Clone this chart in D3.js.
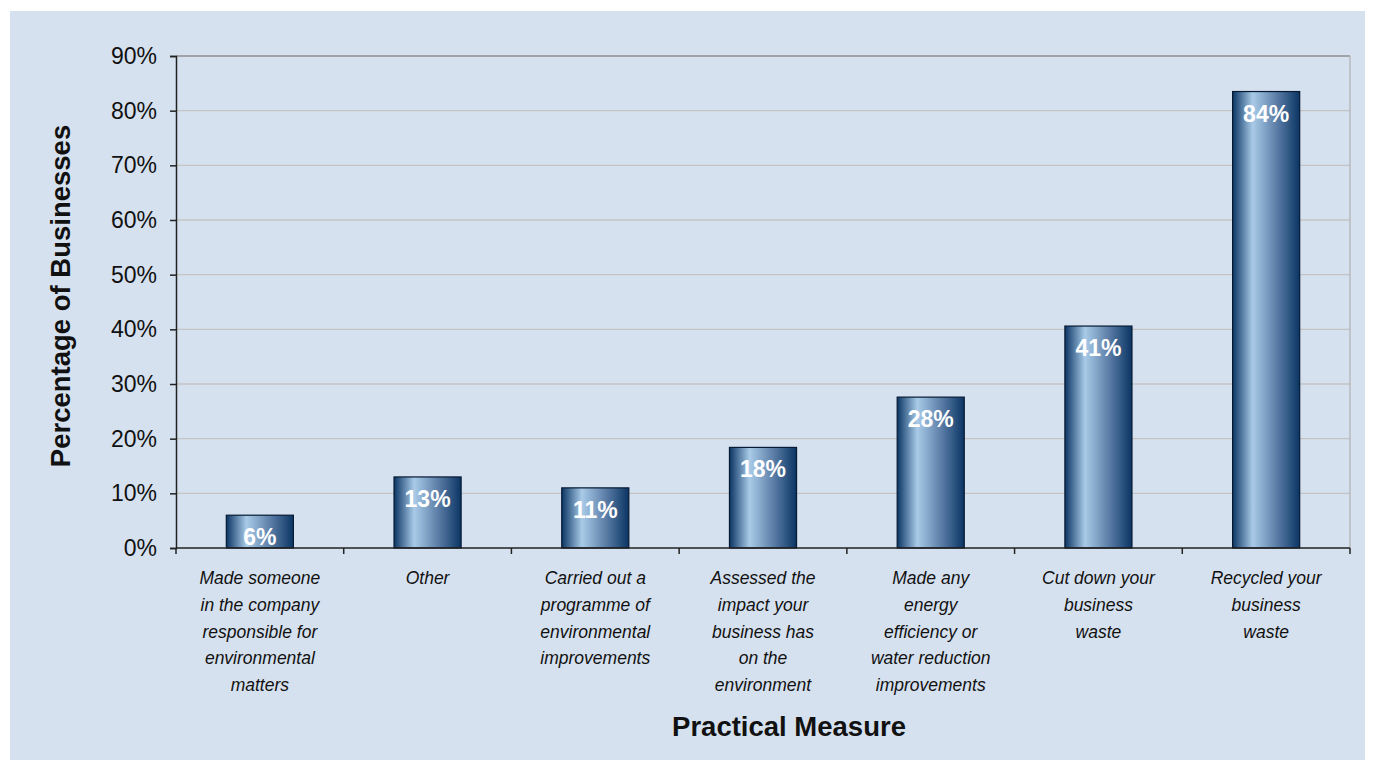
<!DOCTYPE html>
<html>
<head>
<meta charset="utf-8">
<script src="https://cdn.jsdelivr.net/npm/d3@7"></script>
<style>
  body { margin: 0; background: #ffffff; font-family: "Liberation Sans", Arial, sans-serif; }
</style>
</head>
<body>
<div id="chart"></div>
<script>
// data
var categories = [
  ["Made someone", "in the company", "responsible for", "environmental", "matters"],
  ["Other"],
  ["Carried out a", "programme of", "environmental", "improvements"],
  ["Assessed the", "impact your", "business has", "on the", "environment"],
  ["Made any", "energy", "efficiency or", "water reduction", "improvements"],
  ["Cut down your", "business", "waste"],
  ["Recycled your", "business", "waste"]
];
var values = [6, 13, 11, 18.4, 27.6, 40.6, 83.5];
var valueLabels = ["6%", "13%", "11%", "18%", "28%", "41%", "84%"];
var yTicks = [0, 10, 20, 30, 40, 50, 60, 70, 80, 90];

var svgWidth = 1373;
var svgHeight = 764;

var margin = { top: 56, right: 23, bottom: 216, left: 176 };
var width = svgWidth - margin.left - margin.right;
var height = svgHeight - margin.top - margin.bottom;

var svg = d3.select("#chart")
  .append("svg")
  .attr("width", svgWidth)
  .attr("height", svgHeight)
  .style("font-family", "Liberation Sans, Arial, sans-serif");

// panel background
svg.append("rect")
  .attr("x", 10).attr("y", 11)
  .attr("width", 1355).attr("height", 749)
  .attr("fill", "#d6e1ef");

var defs = svg.append("defs");
var grad = defs.append("linearGradient")
  .attr("id", "barGrad")
  .attr("x1", "0%").attr("x2", "100%")
  .attr("y1", "0%").attr("y2", "0%");
grad.append("stop").attr("offset", "0%").attr("stop-color", "#0b3564");
grad.append("stop").attr("offset", "30%").attr("stop-color", "#a9cbe8");
grad.append("stop").attr("offset", "65%").attr("stop-color", "#5d7fa8");
grad.append("stop").attr("offset", "100%").attr("stop-color", "#0b3564");

var chartGroup = svg.append("g")
  .attr("transform", `translate(${margin.left}, ${margin.top})`);

var xScale = d3.scaleBand()
  .domain(d3.range(categories.length))
  .range([0, width])
  .paddingInner(0.6)
  .paddingOuter(0.3);

var xTickScale = d3.scaleLinear()
  .domain([0, categories.length])
  .range([0, width]);

var yScale = d3.scaleLinear()
  .domain([0, 90])
  .range([height, 0]);

// gridlines
chartGroup.selectAll("line.grid")
  .data(yTicks.slice(1))
  .enter()
  .append("line")
  .attr("class", "grid")
  .attr("x1", 0).attr("x2", width)
  .attr("y1", d => yScale(d)).attr("y2", d => yScale(d))
  .attr("stroke", d => d === 90 ? "#8f8f8f" : "#c4c4c4")
  .attr("stroke-width", 1.3);

// right border
chartGroup.append("line")
  .attr("x1", width).attr("x2", width)
  .attr("y1", 0).attr("y2", height)
  .attr("stroke", "#b4b4b4")
  .attr("stroke-width", 1.3);

// bars
chartGroup.selectAll("rect.bar")
  .data(values)
  .enter()
  .append("rect")
  .attr("class", "bar")
  .attr("x", (d, i) => xScale(i))
  .attr("y", d => yScale(d))
  .attr("width", xScale.bandwidth())
  .attr("height", d => height - yScale(d))
  .attr("fill", "url(#barGrad)")
  .attr("stroke", "#061a33")
  .attr("stroke-width", 1.2);

// value labels
chartGroup.selectAll("text.val")
  .data(values)
  .enter()
  .append("text")
  .attr("class", "val")
  .attr("x", (d, i) => xScale(i) + xScale.bandwidth() / 2)
  .attr("y", d => yScale(d) + 30)
  .attr("text-anchor", "middle")
  .attr("fill", "#ffffff")
  .attr("font-weight", "bold")
  .attr("font-size", "23px")
  .text((d, i) => valueLabels[i]);

// y axis
var leftAxis = d3.axisLeft(yScale)
  .tickValues(yTicks)
  .tickSize(6)
  .tickPadding(13)
  .tickFormat(d => d + "%");

var yAxisG = chartGroup.append("g").call(leftAxis);
yAxisG.select(".domain").attr("stroke", "#222").attr("stroke-width", 1.5);
yAxisG.selectAll(".tick line").attr("stroke", "#222").attr("stroke-width", 1.5);
yAxisG.selectAll(".tick text")
  .attr("font-family", "Liberation Sans, Arial, sans-serif")
  .attr("font-size", "23px")
  .attr("fill", "#111");

// x axis line and category ticks
chartGroup.append("line")
  .attr("x1", 0).attr("x2", width)
  .attr("y1", height).attr("y2", height)
  .attr("stroke", "#222")
  .attr("stroke-width", 1.5);

chartGroup.selectAll("line.xtick")
  .data(d3.range(categories.length + 1))
  .enter()
  .append("line")
  .attr("class", "xtick")
  .attr("x1", d => xTickScale(d)).attr("x2", d => xTickScale(d))
  .attr("y1", height).attr("y2", height + 6)
  .attr("stroke", "#222")
  .attr("stroke-width", 1.5);

// category labels
var catText = chartGroup.selectAll("text.cat")
  .data(categories)
  .enter()
  .append("text")
  .attr("class", "cat")
  .attr("text-anchor", "middle")
  .attr("font-style", "italic")
  .attr("font-size", "17.5px")
  .attr("fill", "#111")
  .attr("transform", (d, i) => `translate(${xScale(i) + xScale.bandwidth() / 2}, ${height + 36})`);

catText.selectAll("tspan")
  .data(d => d)
  .enter()
  .append("tspan")
  .attr("x", 0)
  .attr("y", (d, j) => j * 26.8)
  .text(d => d);

// axis titles
chartGroup.append("text")
  .attr("transform", "rotate(-90)")
  .attr("x", 0 - (height / 2) + 6)
  .attr("y", 0 - margin.left + 70)
  .attr("text-anchor", "middle")
  .attr("font-weight", "bold")
  .attr("font-size", "27.5px")
  .attr("fill", "#111")
  .text("Percentage of Businesses");

chartGroup.append("text")
  .attr("x", width / 2 + 26)
  .attr("y", height + 188)
  .attr("text-anchor", "middle")
  .attr("font-weight", "bold")
  .attr("font-size", "27.5px")
  .attr("fill", "#111")
  .text("Practical Measure");
</script>
</body>
</html>
